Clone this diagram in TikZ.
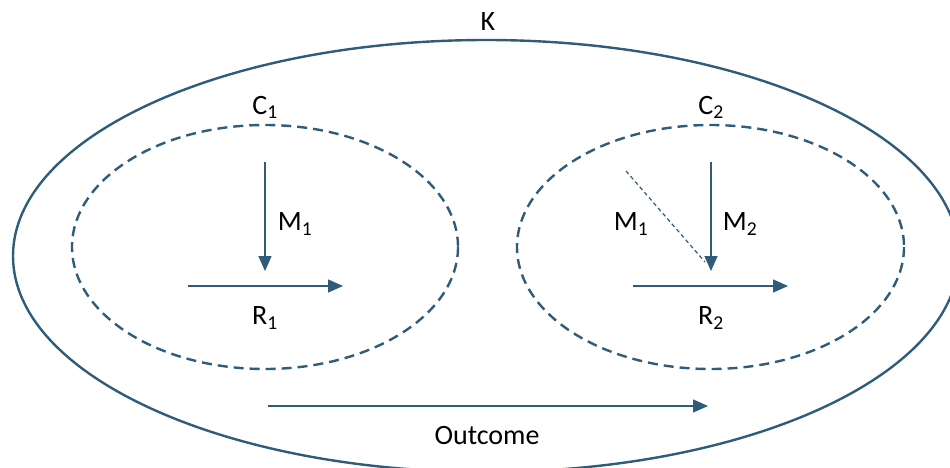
\documentclass[tikz,border=0pt]{standalone}
\usepackage{fontspec}
\setmainfont{Carlito}
\usetikzlibrary{arrows.meta}
\definecolor{lc}{HTML}{2E5C7A}
\tikzset{
  outer/.style={draw=lc, line width=2.4pt},
  group/.style={draw=lc, line width=2.4pt, dash pattern=on 10pt off 6pt},
  arr/.style={draw=lc, line width=1.4pt, -{Triangle[length=15pt,width=13pt]}},
  thin dash/.style={draw=lc, line width=1.2pt, dash pattern=on 4pt off 3pt},
  lbl/.style={font=\fontsize{28}{32}\selectfont, text=black, inner sep=0pt}
}
\begin{document}
\begin{tikzpicture}[x=1pt,y=-1pt]
\useasboundingbox (0,0) rectangle (950,467);
\begin{scope}
\clip (0,0) rectangle (950,467);
\draw[outer] (486,256) ellipse [x radius=473, y radius=216];
\end{scope}
\draw[group] (265,247) ellipse [x radius=193, y radius=122];
\draw[group] (710.5,247) ellipse [x radius=193.5, y radius=122];
% labels
\node[lbl] (K) at (488,22) {K};
\node[lbl] (C1) at (265,107) {C\textsubscript{1}};
\node[lbl] (C2) at (711,107) {C\textsubscript{2}};
\node[lbl] (M1a) at (295,224) {M\textsubscript{1}};
\node[lbl] (R1) at (265,318) {R\textsubscript{1}};
\node[lbl] (M1b) at (631,224) {M\textsubscript{1}};
\node[lbl] (M2) at (740,224) {M\textsubscript{2}};
\node[lbl] (R2) at (711,318) {R\textsubscript{2}};
\node[lbl] (out) at (487,436) {Outcome};
% coordinates
\coordinate (a1s) at (265,162);
\coordinate (a1e) at (265,271);
\coordinate (h1s) at (188,286);
\coordinate (h1e) at (343,286);
\coordinate (a2s) at (711,162);
\coordinate (a2e) at (711,271);
\coordinate (d2s) at (626,171);
\coordinate (d2e) at (705,262);
\coordinate (h2s) at (633,286);
\coordinate (h2e) at (788,286);
\coordinate (os) at (268,406);
\coordinate (oe) at (708,406);
\draw[thin dash] (d2s) -- (d2e);
\draw[arr] (a1s) -- (a1e);
\draw[arr] (h1s) -- (h1e);
\draw[arr] (a2s) -- (a2e);
\draw[arr] (h2s) -- (h2e);
\draw[arr] (os) -- (oe);
\end{tikzpicture}
\end{document}
